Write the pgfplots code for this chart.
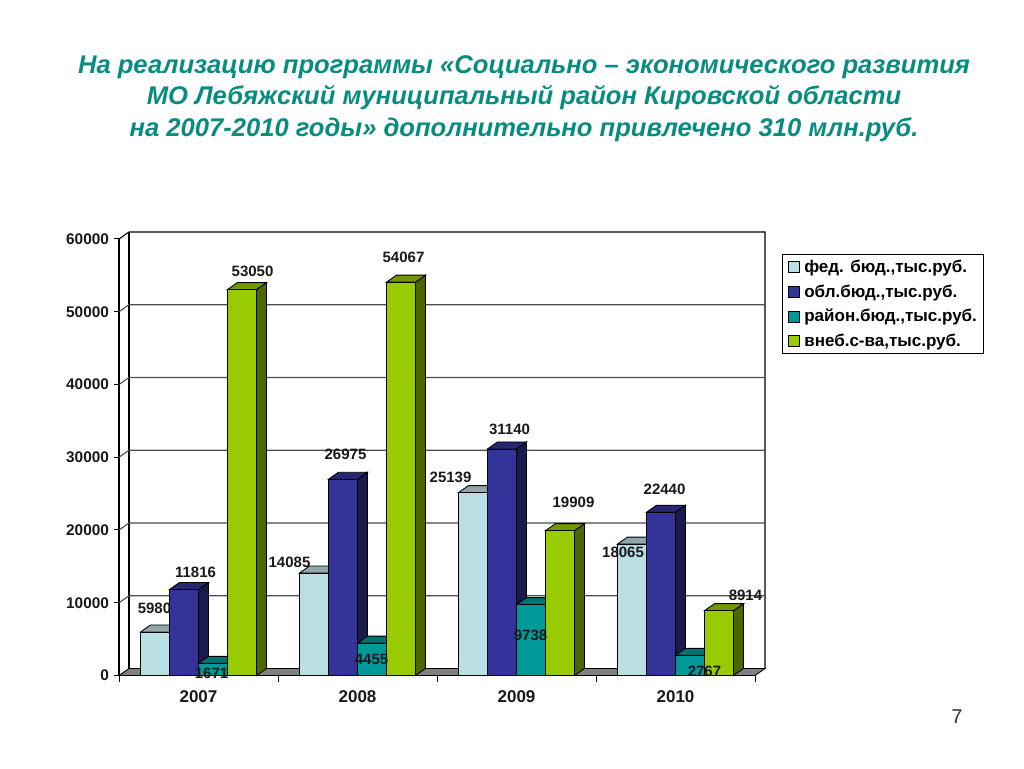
\documentclass[border=0pt]{standalone}
\usepackage{fontspec}
\setmainfont{Liberation Sans}
\usepackage{pgfplots}
\pgfplotsset{compat=1.18}
\definecolor{titlecol}{RGB}{8,140,128}
\definecolor{fedF}{RGB}{185,223,228}\definecolor{fedT}{RGB}{142,168,172}\definecolor{fedS}{RGB}{92,112,114}
\definecolor{oblF}{RGB}{51,51,153}\definecolor{oblT}{RGB}{38,38,115}\definecolor{oblS}{RGB}{26,26,77}
\definecolor{raiF}{RGB}{0,153,153}\definecolor{raiT}{RGB}{0,115,115}\definecolor{raiS}{RGB}{0,77,77}
\definecolor{vneF}{RGB}{153,204,0}\definecolor{vneT}{RGB}{115,153,0}\definecolor{vneS}{RGB}{77,102,0}
% depth of the 3d look in data units: 10px and 7px
\newcommand{\ddx}{0.0629}
\newcommand{\ddy}{962}
\newcommand{\bw}{0.1824}
\newcommand{\faces}[4]{%
  \pgfmathsetmacro{\xa}{#1}%
  \pgfmathsetmacro{\xb}{#1+\bw}%
  \pgfmathsetmacro{\xc}{#1+\ddx}%
  \pgfmathsetmacro{\xd}{#1+\bw+\ddx}%
  \edef\yt{\the\numexpr #2+\ddy\relax}%
  \addplot[fill=#4,draw=black,line width=0.9pt,forget plot] coordinates {(\xb,0) (\xd,\ddy) (\xd,\yt) (\xb,#2)} --cycle;
  \addplot[fill=#3,draw=black,line width=0.9pt,forget plot] coordinates {(\xa,#2) (\xc,\yt) (\xd,\yt) (\xb,#2)} --cycle;
}
% offset of left edge in data units, bar shift, four values, colours
\newcommand{\series}[9]{%
  \pgfmathsetmacro{\la}{#1}\faces{\la}{#3}{#7}{#8}%
  \pgfmathsetmacro{\la}{1+#1}\faces{\la}{#4}{#7}{#8}%
  \pgfmathsetmacro{\la}{2+#1}\faces{\la}{#5}{#7}{#8}%
  \pgfmathsetmacro{\la}{3+#1}\faces{\la}{#6}{#7}{#8}%
  \addplot[ybar,bar width=29pt,bar shift=#2,fill=#9,draw=black,line width=0.9pt] coordinates {(0,#3) (1,#4) (2,#5) (3,#6)};
}
\newcommand{\lab}[3]{\node[font=\fontsize{15}{15}\selectfont\bfseries,inner sep=0pt,text=black!90] at (axis cs:#1,#2) {#3};}
\begin{document}
\begin{tikzpicture}[x=1pt,y=1pt]
\path[use as bounding box] (0,0) rectangle (1024,768);
\node[font=\fontsize{25.6}{31.5}\selectfont\bfseries\itshape,text=titlecol,align=center,anchor=center] at (524,669.5)
 {На реализацию программы «Социально – экономического развития\\МО Лебяжский муниципальный район Кировской области\\на 2007-2010 годы» дополнительно привлечено 310 млн.руб.};
\node[font=\fontsize{20}{20}\selectfont,text=black!80] at (957,51) {7};
\begin{axis}[
  at={(119pt,92.5pt)},anchor=south west,
  scale only axis,width=636pt,height=436.5pt,
  xmin=-0.5,xmax=3.5,ymin=0,ymax=60000,
  clip=false,
  axis x line*=bottom,axis y line*=left,
  axis line style={line width=1.1pt,-},
  xtick={0,1,2,3},xticklabels={2007,2008,2009,2010},
  minor xtick={-0.5,0.5,1.5,2.5,3.5},
  ytick={0,10000,...,60000},
  scaled y ticks=false,
  /pgf/number format/.cd,fixed,1000 sep={},assume math mode=true,/pgfplots/.cd,
  yticklabel style={font=\fontsize{15.4}{15.4}\selectfont\bfseries,text=black!90,xshift=-1.5pt},
  xticklabel style={font=\fontsize{17}{17}\selectfont\bfseries,text=black!90,yshift=-7pt},
  tick align=outside,tick pos=left,
  major tick style={black,line width=1pt},
  major x tick style={draw=none},
  minor tick style={black,line width=1pt},
  major tick length=5pt,minor tick length=6pt,
  legend style={at={(1.0425,0.9656)},anchor=north west,draw=black,line width=1pt,
    font=\fontsize{17}{17}\selectfont\bfseries,row sep=6.7pt,inner xsep=5pt,inner ysep=3.5pt,
    /tikz/every odd column/.append style={column sep=3pt}},
  legend cell align=left,
  legend image code/.code={\draw[#1,line width=0.8pt] (0pt,-5.5pt) rectangle (11pt,5.5pt);},
]
% floor and walls
\addplot[fill=gray,draw=black,line width=0.9pt,forget plot] coordinates {(-0.5,0) (-0.4371,962) (3.5629,962) (3.5,0)} --cycle;
\addplot[black,line width=1.1pt,forget plot] coordinates {(-0.5,60000) (-0.4371,60962) (3.5629,60962) (3.5629,962)};
\addplot[black,line width=1.1pt,forget plot] coordinates {(-0.4371,962) (-0.4371,60962)};
% grid lines on the back wall
\addplot[black!70,line width=1.1pt,forget plot] coordinates {(-0.5,10000) (-0.4371,10962) (3.5629,10962)};
\addplot[black!70,line width=1.1pt,forget plot] coordinates {(-0.5,20000) (-0.4371,20962) (3.5629,20962)};
\addplot[black!70,line width=1.1pt,forget plot] coordinates {(-0.5,30000) (-0.4371,30962) (3.5629,30962)};
\addplot[black!70,line width=1.1pt,forget plot] coordinates {(-0.5,40000) (-0.4371,40962) (3.5629,40962)};
\addplot[black!70,line width=1.1pt,forget plot] coordinates {(-0.5,50000) (-0.4371,50962) (3.5629,50962)};
\series{-0.3648}{-43.5pt}{5980}{14085}{25139}{18065}{fedT}{fedS}{fedF}
\series{-0.1824}{-14.5pt}{11816}{26975}{31140}{22440}{oblT}{oblS}{oblF}
\series{0}{14.5pt}{1671}{4455}{9738}{2767}{raiT}{raiS}{raiF}
\series{0.1824}{43.5pt}{53050}{54067}{19909}{8914}{vneT}{vneS}{vneF}
\legend{{фед. бюд.,тыс.руб.},{обл.бюд.,тыс.руб.},{район.бюд.,тыс.руб.},{внеб.с-ва,тыс.руб.}}
% data labels
\lab{-0.2770}{9280}{5980}
\lab{-0.0189}{14130}{11816}
\lab{0.0818}{260}{1671}
\lab{0.3400}{55610}{53050}
\lab{0.5724}{15510}{14085}
\lab{0.9245}{30350}{26975}
\lab{1.0881}{2270}{4455}
\lab{1.2893}{57520}{54067}
\lab{1.5850}{27300}{25139}
\lab{1.9560}{33870}{31140}
\lab{2.0881}{5570}{9738}
\lab{2.3585}{23840}{19909}
\lab{2.6700}{16960}{18065}
\lab{2.9310}{25640}{22440}
\lab{3.1823}{540}{2767}
\lab{3.4400}{11070}{8914}
\end{axis}
\end{tikzpicture}
\end{document}
